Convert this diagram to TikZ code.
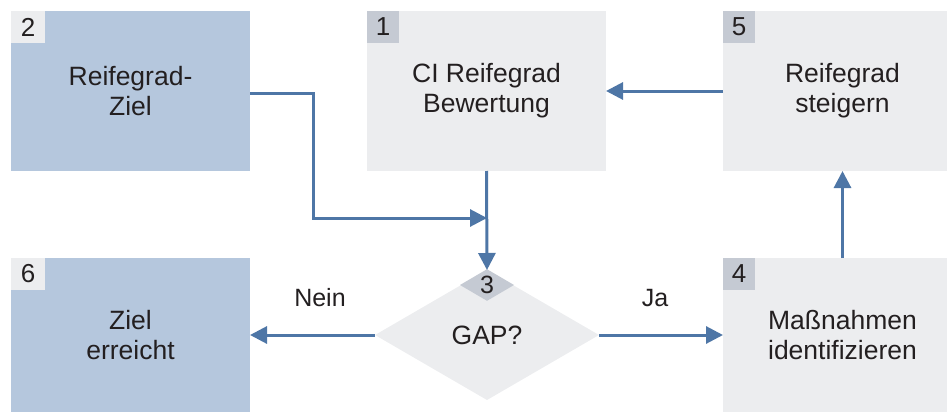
\documentclass[tikz,border=0pt]{standalone}
\usepackage{fontspec}
\setmainfont{Liberation Sans}
\usetikzlibrary{shapes.geometric,arrows.meta}
\definecolor{boxgray}{HTML}{ECEDEF}
\definecolor{boxblue}{HTML}{B5C7DD}
\definecolor{tabgray}{HTML}{C5CAD3}
\definecolor{arrowblue}{HTML}{4E76A6}
\definecolor{txt}{HTML}{231F20}
\tikzset{
  box/.style={rectangle, minimum width=239pt, minimum height=160pt, inner sep=0pt, outer sep=0pt, text=txt, align=center, font=\fontsize{26.5}{30}\selectfont},
  graybox/.style={box, fill=boxgray},
  bluebox/.style={box, fill=boxblue},
  tab/.style={rectangle, anchor=north west, minimum width=33pt, minimum height=32pt, inner sep=0pt, outer sep=0pt, text=txt, font=\fontsize{26}{30}\selectfont},
  flow/.style={draw=arrowblue, line width=3pt, -{Triangle[length=17pt,width=17pt]}},
  lbl/.style={text=txt, font=\fontsize{25}{28}\selectfont, inner sep=0pt}
}
\begin{document}
\begin{tikzpicture}[x=1pt,y=-1pt]
\useasboundingbox (0,0) rectangle (947,412);
% boxes
\node[bluebox] (b2) at (130.5,91) {Reifegrad-\\Ziel};
\node[graybox] (b1) at (486.5,91) {CI Reifegrad\\Bewertung};
\node[graybox] (b5) at (842.5,91) {Reifegrad\\steigern};
\node[bluebox, minimum height=154pt] (b6) at (130.5,335) {Ziel\\erreicht};
\node[graybox, minimum height=154pt] (b4) at (842.5,335) {Maßnahmen\\identifizieren};
% tabs
\node[tab, fill=boxgray, minimum width=34pt] (t2) at (b2.north west) {2};
\node[tab, fill=tabgray, minimum width=32pt] (t1) at (b1.north west) {1};
\node[tab, fill=tabgray, minimum width=32pt] (t5) at (b5.north west) {5};
\node[tab, fill=boxgray, minimum width=34pt] (t6) at (b6.north west) {6};
\node[tab, fill=tabgray, minimum width=32pt] (t4) at (b4.north west) {4};
% decision
\node[diamond, fill=boxgray, minimum width=224pt, minimum height=130pt, inner sep=0pt, outer sep=0pt, text=txt, font=\fontsize{26.5}{30}\selectfont] (d3) at (487,335) {GAP?};
\node[diamond, fill=tabgray, minimum width=54pt, minimum height=30pt, inner sep=0pt, outer sep=0pt, text=txt, font=\fontsize{25}{28}\selectfont] (t3) at (487,285) {3};
% labels
\node[lbl] (nein) at (320,298) {Nein};
\node[lbl] (ja) at (655,298) {Ja};
% connectors
\coordinate (c1) at (313,93);
\coordinate (c2) at (313,218);
\coordinate (c3) at (487,218);
\draw[flow] (b2.east |- c1) -- (c1) -- (c2) -- (c3);
\draw[flow] (b1.south) -- (d3.north);
\draw[flow] (d3.west) -- (b6.east);
\draw[flow] (d3.east) -- (b4.west);
\draw[flow] (b4.north) -- (b5.south);
\draw[flow] (b5.west) -- (b1.east);
\end{tikzpicture}
\end{document}
